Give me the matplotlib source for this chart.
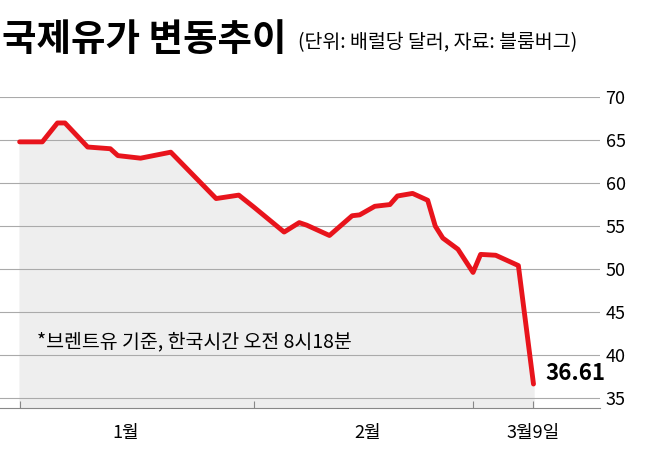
import matplotlib
matplotlib.use("Agg")
import matplotlib.pyplot as plt

plt.rcParams['font.family'] = ['Noto Sans CJK KR', 'DejaVu Sans']

# day offset from Jan 1, Brent price (USD/bbl)
days = [0, 3, 5, 6, 9, 12, 13, 16, 20, 26, 29, 31, 35, 37, 38, 41, 44, 45, 47,
        49, 50, 52, 54, 55, 56, 58, 60, 61, 63, 66, 68]
price = [64.8, 64.8, 67.0, 67.0, 64.2, 64.0, 63.2, 62.9, 63.6, 58.2, 58.6, 57.2,
         54.3, 55.4, 55.1, 53.9, 56.2, 56.3, 57.3, 57.5, 58.5, 58.8, 58.0, 55.0,
         53.6, 52.3, 49.6, 51.7, 51.6, 50.4, 36.61]
yticks = [35, 40, 45, 50, 55, 60, 65, 70]
month_ticks = [0, 31, 60, 68]
month_labels = [(14, '1월'), (46, '2월'), (68, '3월9일')]

fig = plt.figure(figsize=(6.55, 4.5), dpi=100)
ax = fig.add_axes([0.0, 0.093, 0.916, 0.691])

ax.fill_between(days, price, 30, color='#eeeeee', zorder=1)
ax.plot(days, price, color='#e8141c', lw=3.5, zorder=3, solid_capstyle='round')
for y in yticks:
    ax.axhline(y, color='#aaaaaa', lw=0.8, zorder=2)

ax.set_xlim(-2.6, 76.8)
ax.set_ylim(33.8, 70)
ax.yaxis.tick_right()
ax.set_yticks(yticks)
ax.set_yticklabels([str(v) for v in yticks], fontsize=13)
ax.tick_params(axis='y', length=0, pad=4)
ax.set_xticks(month_ticks)
ax.set_xticklabels([])
ax.tick_params(axis='x', length=5, color='#888888', direction='in')
for x, lab in month_labels:
    ax.text(x, 32.0, lab, ha='center', va='top', fontsize=13)
for s in ['top', 'left', 'right']:
    ax.spines[s].set_visible(False)
ax.spines['bottom'].set_color('#888888')

ax.text(69.6, 37.8, '36.61', fontsize=16, fontweight='bold', ha='left', va='center')
ax.text(2.3, 41.5, '*브렌트유 기준, 한국시간 오전 8시18분', fontsize=14, va='center')

fig.text(0.003, 0.912, '국제유가 변동추이', fontsize=27, fontweight='black', va='center')
fig.text(0.455, 0.905, '(단위: 배럴당 달러, 자료: 블룸버그)', fontsize=14, va='center')

fig.savefig('out.png', dpi=100)
